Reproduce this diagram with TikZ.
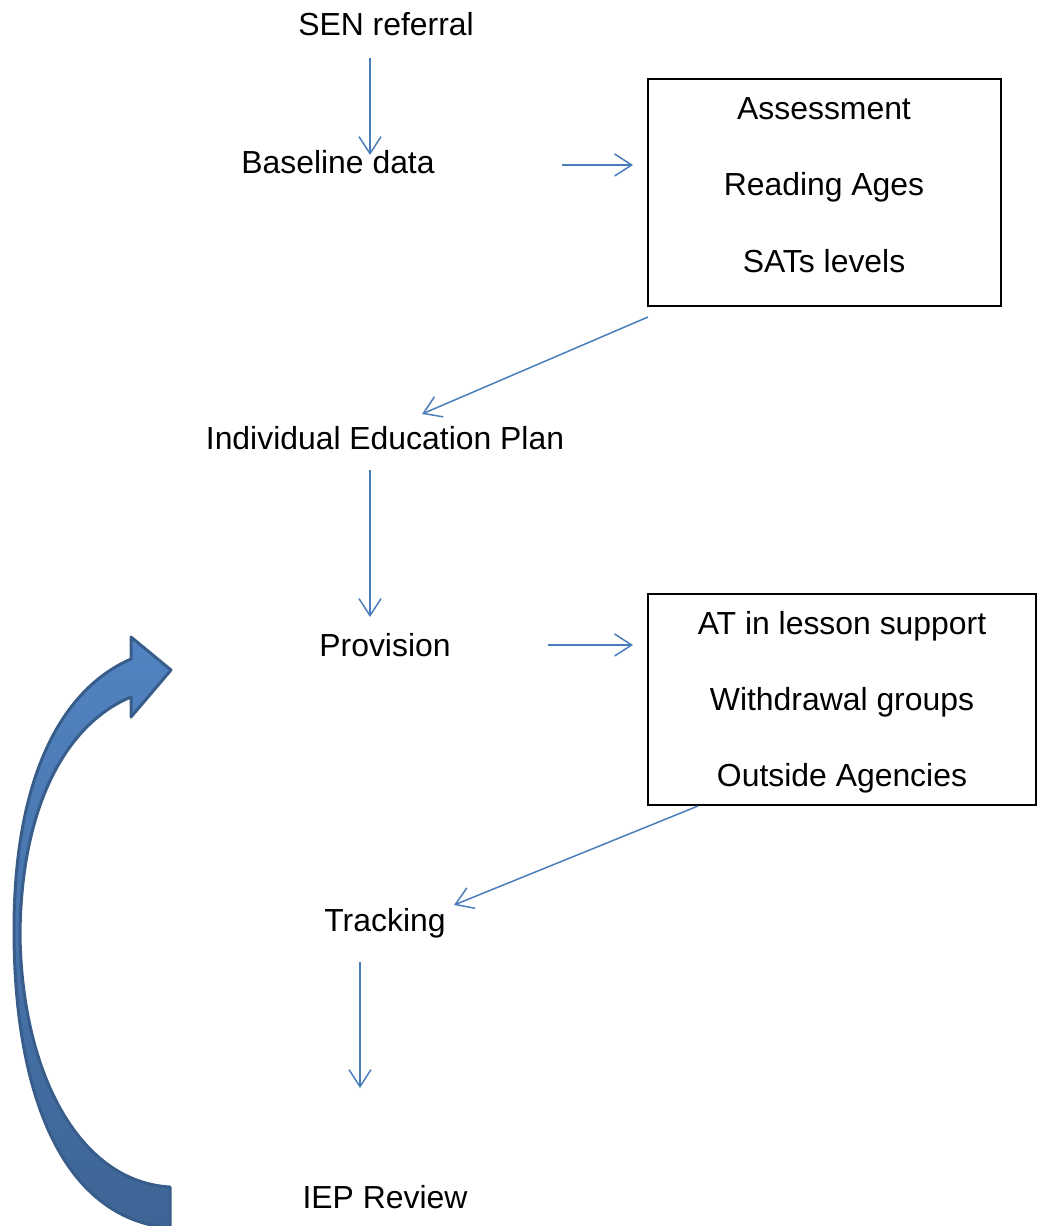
\documentclass[tikz,border=0pt]{standalone}
\usepackage{fontspec}
\setmainfont{Liberation Sans}
\usetikzlibrary{arrows.meta}
\definecolor{lineblue}{HTML}{4A7EBB}
\definecolor{bandtop}{HTML}{5283C2}
\definecolor{bandbot}{HTML}{3D6595}
\definecolor{bandedge}{HTML}{385D8A}
\begin{document}
\begin{tikzpicture}[x=1pt,y=-1pt,
  lbl/.style={anchor=base,inner sep=0pt,font=\fontsize{31.9}{38}\selectfont},
  framebox/.style={draw=black,line width=1.5pt,inner sep=0pt},
  conn/.style={draw=lineblue,line width=1.5pt,-{Straight Barb[length=17pt,width=22pt,line width=1.5pt]}}]
\useasboundingbox (0,0) rectangle (1038,1226);
% texts
\node[lbl] (sen) at (386,35) {SEN referral};
\node[lbl] (base) at (338,173) {Baseline data};
\node[lbl] (iep) at (385,449) {Individual Education Plan};
\node[lbl] (prov) at (385,656) {Provision};
\node[lbl] (track) at (385,931) {Tracking};
\node[lbl] (review) at (385,1208) {IEP Review};
% boxes
\node[framebox,minimum width=353pt,minimum height=227pt] (box1) at (824.5,192.5) {};
\node[lbl] (b1a) at (824,119) {Assessment};
\node[lbl] (b1b) at (824,195) {Reading Ages};
\node[lbl] (b1c) at (824,272) {SATs levels};
\node[framebox,minimum width=388pt,minimum height=211pt] (box2) at (842,699.5) {};
\node[lbl] (b2a) at (842,634) {AT in lesson support};
\node[lbl] (b2b) at (842,710) {Withdrawal groups};
\node[lbl] (b2c) at (842,786) {Outside Agencies};
% connector end points
\coordinate (a1s) at (370,58);  \coordinate (a1e) at (370,155);
\coordinate (a2s) at (562,165); \coordinate (a2e) at (633,165);
\coordinate (a3s) at (648,317); \coordinate (a3e) at (422,414);
\coordinate (a4s) at (370,470); \coordinate (a4e) at (370,617);
\coordinate (a5s) at (548,645); \coordinate (a5e) at (633,645);
\coordinate (a6s) at (698,806); \coordinate (a6e) at (454,905);
\coordinate (a7s) at (360,962); \coordinate (a7e) at (360,1088);
\draw[conn] (a1s) -- (a1e);
\draw[conn] (a2s) -- (a2e);
\draw[conn] (a3s) -- (a3e);
\draw[conn] (a4s) -- (a4e);
\draw[conn] (a5s) -- (a5e);
\draw[conn] (a6s) -- (a6e);
\draw[conn] (a7s) -- (a7e);
% curved block arrow
\path[draw=bandedge,line width=3pt,line join=round,top color=bandtop,bottom color=bandbot]
  (170,1228) .. controls (60,1218) and (14,1090) .. (14,930)
  .. controls (14,780) and (60,690) .. (131,659)
  -- (131,637) -- (171,670) -- (131,717) -- (131,697)
  .. controls (70,722) and (21,800) .. (20,935)
  .. controls (22,1075) and (80,1182) .. (170,1187) -- cycle;
\end{tikzpicture}
\end{document}
